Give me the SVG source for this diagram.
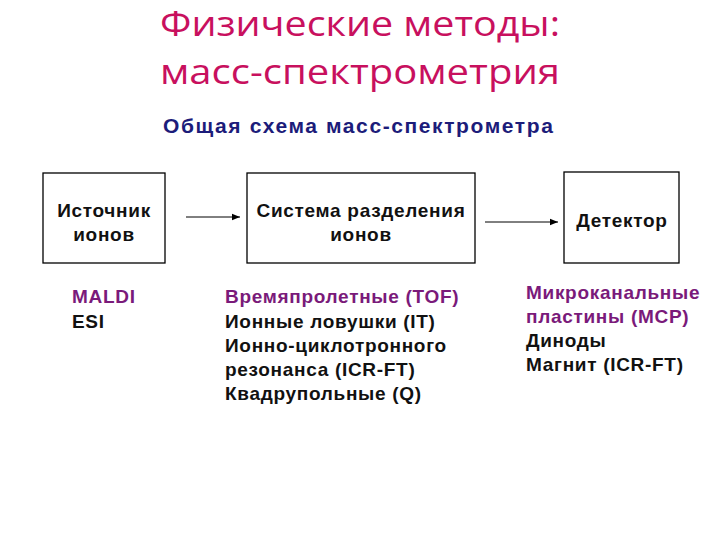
<svg xmlns="http://www.w3.org/2000/svg" width="720" height="540" viewBox="0 0 720 540">
<defs>
<style>
.title{font-family:"Open Sans","DejaVu Sans",sans-serif;font-size:34px;fill:#C8105E}
.sub{font-family:"Liberation Sans",Arial,sans-serif;font-size:21px;font-weight:bold;fill:#1C1C7A;letter-spacing:1.6px}
.lbl{font-family:"Liberation Sans",Arial,sans-serif;font-size:19px;font-weight:bold;fill:#111;letter-spacing:0.7px}
.box{fill:#fff;stroke:#000;stroke-width:1.3}
.purple{fill:#7A1A7A}
.conn{stroke:#000;stroke-width:1;fill:none}
</style>
<marker id="arr" viewBox="0 0 10 10" refX="10" refY="5" markerWidth="8" markerHeight="8" markerUnits="userSpaceOnUse" orient="auto">
<path d="M0,1 L10,5 L0,9 z" fill="#000"/>
</marker>
</defs>
<rect width="720" height="540" fill="#fff"/>
<text class="title" x="160" y="36" textLength="400" lengthAdjust="spacingAndGlyphs">Физические методы:</text>
<text class="title" x="160" y="84" textLength="400" lengthAdjust="spacingAndGlyphs">масс-спектрометрия</text>
<text class="sub" x="163" y="133">Общая схема масс-спектрометра</text>
<g id="connectors">
<line class="conn" x1="186" y1="217" x2="240" y2="217" marker-end="url(#arr)"/>
<line class="conn" x1="485" y1="222" x2="558" y2="222" marker-end="url(#arr)"/>
</g>
<g id="source">
<rect class="box" x="43" y="173" width="122" height="90"/>
<text class="lbl" x="104" y="217" text-anchor="middle">Источник</text>
<text class="lbl" x="104" y="241" text-anchor="middle">ионов</text>
</g>
<g id="separator">
<rect class="box" x="247" y="173" width="228" height="90"/>
<text class="lbl" x="361" y="217" text-anchor="middle">Система разделения</text>
<text class="lbl" x="361" y="241" text-anchor="middle">ионов</text>
</g>
<g id="detector">
<rect class="box" x="564" y="172" width="115" height="91"/>
<text class="lbl" x="622" y="227" text-anchor="middle">Детектор</text>
</g>
<g id="source-list">
<text class="lbl purple" x="72" y="303">MALDI</text>
<text class="lbl" x="72" y="328">ESI</text>
</g>
<g id="separator-list">
<text class="lbl purple" x="225" y="303">Времяпролетные (TOF)</text>
<text class="lbl" x="225" y="328">Ионные ловушки (IT)</text>
<text class="lbl" x="225" y="352">Ионно-циклотронного</text>
<text class="lbl" x="225" y="376">резонанса (ICR-FT)</text>
<text class="lbl" x="225" y="400">Квадрупольные (Q)</text>
</g>
<g id="detector-list">
<text class="lbl purple" x="526" y="299">Микроканальные</text>
<text class="lbl purple" x="526" y="323">пластины (MCP)</text>
<text class="lbl" x="526" y="347">Диноды</text>
<text class="lbl" x="526" y="371">Магнит (ICR-FT)</text>
</g>
</svg>
